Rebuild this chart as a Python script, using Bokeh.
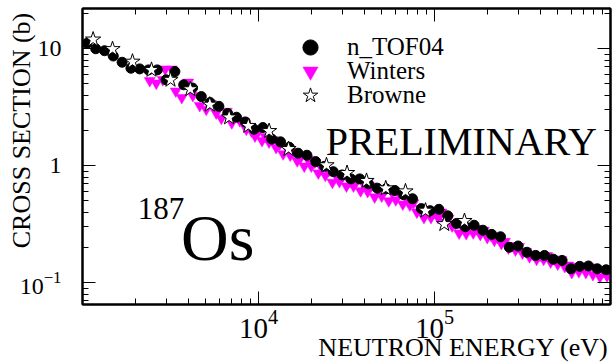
from bokeh.plotting import figure
from bokeh.models import LogAxis, FixedTicker, Label, Legend, LegendItem, Range1d
from bokeh.embed import file_html
from bokeh.resources import INLINE

# ---------------- data ----------------
ntof_energy = [1059, 1189, 1334, 1496, 1679, 1884, 2113, 2371, 2661, 2985,
               3350, 3758, 4217, 4732, 5309, 5957, 6683, 7499, 8414, 9441,
               10590, 11890, 13340, 14960, 16790, 18840, 21130, 23710, 26610, 29850,
               33500, 37580, 42170, 47320, 53090, 59570, 66830, 74990, 84140, 94410,
               105900, 118900, 133400, 149600, 167900, 188400, 211300, 237100, 266100, 298500,
               335000, 375800, 421700, 473200, 530900, 595700, 668300, 749900, 841400, 944100]
ntof_xs = [11.1, 10.0, 9.62, 8.67, 7.67, 6.82, 6.73, 6.60, 6.60, 5.43,
           6.38, 4.92, 4.62, 3.90, 3.47, 3.22, 2.80, 2.60, 2.37, 2.05,
           2.12, 1.69, 1.60, 1.44, 1.28, 1.23, 1.085, 0.988, 0.889, 0.834,
           0.772, 0.772, 0.700, 0.643, 0.635, 0.614, 0.565, 0.522, 0.430, 0.413,
           0.424, 0.373, 0.321, 0.301, 0.310, 0.281, 0.259, 0.247, 0.201, 0.206,
           0.182, 0.171, 0.171, 0.159, 0.155, 0.1315, 0.138, 0.139, 0.1315, 0.129]

winters_energy = [2410, 2624, 2858, 2951, 3214, 3388, 3664, 3990, 4236, 4634,
                  5047, 5358, 5754, 6152, 6607, 7047, 7834, 8531,
                  9120, 9550, 10000, 10470, 10960, 11480, 12020, 12590, 13180, 13800,
                  14450, 15140, 15850, 16600, 17380, 18200, 19050, 19950, 20890, 21880,
                  22910, 23990, 25120, 26300, 27540, 28840, 30200, 31620, 33110, 34670,
                  36310, 38020, 39810, 41690, 43650, 45710, 47860, 50120, 52480, 54950,
                  57540, 60260, 63100, 66070, 69180, 72440, 75860, 79430, 83180, 87100,
                  91200, 95500, 100000, 104700, 109600, 114800, 120200, 125900, 131800, 138000,
                  144500, 151400, 158500, 166000, 173800, 182000, 190500, 199500, 208900, 218800,
                  229100, 239900, 251200, 263000, 275400, 288400, 302000, 316200, 331100, 346700,
                  363100, 380200, 398100, 416900, 436500, 457100, 478600, 501200, 524800, 549500,
                  575400, 602600, 631000, 660700, 691800, 724400, 758600, 794300, 831800, 871000,
                  912000, 955000]
winters_xs = [5.33, 5.07, 5.43, 6.69, 6.69, 4.34, 3.82, 5.17, 3.97, 3.27,
              3.03, 3.40, 2.82, 2.54, 2.91, 2.32, 2.42, 2.05,
              1.98, 1.79, 1.97, 1.64, 1.77, 1.59, 1.67, 1.43, 1.52, 1.26,
              1.42, 1.23, 1.32, 1.10, 1.18, 0.99, 1.14, 0.99, 1.07, 0.865,
              0.95, 0.825, 0.91, 0.72, 0.83, 0.73, 0.82, 0.67, 0.73, 0.67,
              0.75, 0.61, 0.69, 0.60, 0.67, 0.54, 0.62, 0.55, 0.63, 0.50,
              0.59, 0.51, 0.58, 0.47, 0.53, 0.46, 0.48, 0.40, 0.43, 0.36,
              0.41, 0.36, 0.40, 0.36, 0.40, 0.33, 0.355, 0.305, 0.32, 0.265,
              0.295, 0.262, 0.30, 0.266, 0.29, 0.258, 0.28, 0.243, 0.255, 0.23,
              0.243, 0.216, 0.225, 0.197, 0.207, 0.19, 0.203, 0.179, 0.185, 0.166,
              0.175, 0.158, 0.171, 0.158, 0.17, 0.15, 0.159, 0.144, 0.157, 0.137,
              0.141, 0.122, 0.138, 0.124, 0.139, 0.122, 0.136, 0.117, 0.129, 0.112,
              0.125, 0.114]

browne_energy = [1149, 1481, 1923, 2466, 3162, 4098, 5289, 6808, 8750, 11490,
                 14810, 24340, 31860, 41090, 52860, 68410, 88900, 113700, 148000]
browne_xs = [12.0, 9.94, 7.76, 6.60, 5.43, 4.51, 3.33, 2.59, 2.19, 1.98,
             1.39, 1.01, 0.867, 0.742, 0.641, 0.604, 0.413, 0.317, 0.337]

x_major = [1e4, 1e5]
x_minor = [2e3, 3e3, 4e3, 5e3, 6e3, 7e3, 8e3, 9e3,
           2e4, 3e4, 4e4, 5e4, 6e4, 7e4, 8e4, 9e4,
           2e5, 3e5, 4e5, 5e5, 6e5, 7e5, 8e5, 9e5]
y_major = [0.1, 1, 10]
y_minor = [0.07, 0.08, 0.09, 0.2, 0.3, 0.4, 0.5, 0.6, 0.7, 0.8, 0.9,
           2, 3, 4, 5, 6, 7, 8, 9, 20]
y_tick_labels = {10: "10", 1: "1"}

x_title = "NEUTRON ENERGY (eV)"
y_title = "CROSS SECTION (b)"

FONT = "Liberation Serif"
NBSP = "\u00a0"

p = figure(width=616, height=364, x_axis_type="log", y_axis_type="log",
           x_range=Range1d(1000, 1e6), y_range=Range1d(0.0651, 22.1),
           output_backend="svg", toolbar_location=None,
           min_border_left=82, min_border_right=6, min_border_top=8, min_border_bottom=57)
p.xgrid.visible = False
p.ygrid.visible = False
p.outline_line_color = "black"
p.outline_line_width = 2


def style_axis(ax):
    ax.axis_line_width = 2
    ax.axis_line_color = "black"
    ax.major_tick_in = 13
    ax.major_tick_out = 0
    ax.minor_tick_in = 6
    ax.minor_tick_out = 0
    ax.major_tick_line_color = "black"
    ax.minor_tick_line_color = "black"
    ax.major_tick_line_width = 1
    ax.minor_tick_line_width = 1
    ax.major_label_text_font = FONT
    ax.major_label_text_font_size = "24px"
    ax.major_label_text_color = "black"
    ax.axis_label_text_font = FONT
    ax.axis_label_text_font_style = "normal"
    ax.axis_label_text_color = "black"


xa = p.xaxis[0]
xa.ticker = FixedTicker(ticks=x_major, minor_ticks=x_minor)
style_axis(xa)
xa.major_label_text_font_size = "29px"
xa.major_label_standoff = 5
# leading no-break spaces push the centred title to the right end, as in the original
xa.axis_label = NBSP * 36 + x_title
xa.axis_label_text_font_size = "26px"
xa.axis_label_standoff = -8

ya = p.yaxis[0]
ya.ticker = FixedTicker(ticks=y_major, minor_ticks=y_minor)
style_axis(ya)
ya.major_label_standoff = 21
ya.major_label_overrides = y_tick_labels
ya.axis_label = NBSP * 8 + y_title
ya.axis_label_text_font_size = "26px"
ya.axis_label_standoff = -19

top = LogAxis(ticker=FixedTicker(ticks=x_major, minor_ticks=x_minor))
style_axis(top)
top.major_label_text_font_size = "2px"
top.major_label_text_alpha = 0
top.major_label_standoff = 0
p.add_layout(top, "above")

right = LogAxis(ticker=FixedTicker(ticks=y_major, minor_ticks=y_minor))
style_axis(right)
right.major_label_text_font_size = "2px"
right.major_label_text_alpha = 0
right.major_label_standoff = 0
p.add_layout(right, "right")

r_w = p.scatter(winters_energy, winters_xs, marker="inverted_triangle", size=11,
                fill_color="#ff00ff", line_color="#ff00ff", line_width=0.5)
r_n = p.scatter(ntof_energy, ntof_xs, marker="circle", size=10,
                fill_color="black", line_color="black")
r_b = p.scatter(browne_energy, browne_xs, marker="star", size=16,
                fill_color="white", line_color="black", line_width=1)

# one legend per entry so the rows can sit closer than the glyph box
for name, rend, ybot in [("n_TOF04", r_n, 238.5), ("Winters", r_w, 214.0), ("Browne", r_b, 190.4)]:
    lg = Legend(items=[LegendItem(label=name, renderers=[rend])],
                location=(209, ybot), padding=0, margin=0, spacing=0,
                glyph_width=38, glyph_height=38, label_standoff=18,
                label_height=20,
                label_text_font=FONT, label_text_font_size="25px",
                label_text_color="black",
                border_line_color=None, background_fill_alpha=0)
    p.add_layout(lg)


def lab(text, x, y, size):
    p.add_layout(Label(x=x, y=y, x_units="screen", y_units="screen", text=text,
                       text_font=FONT, text_font_size=size, text_color="black",
                       text_baseline="middle", text_align="left"))


lab("PRELIMINARY", 243.3, 163.5, "40px")
lab("187", 55.3, 96.2, "31px")
lab("Os", 98.5, 67.0, "66px")

open("out.html", "w").write(file_html(p, INLINE))
